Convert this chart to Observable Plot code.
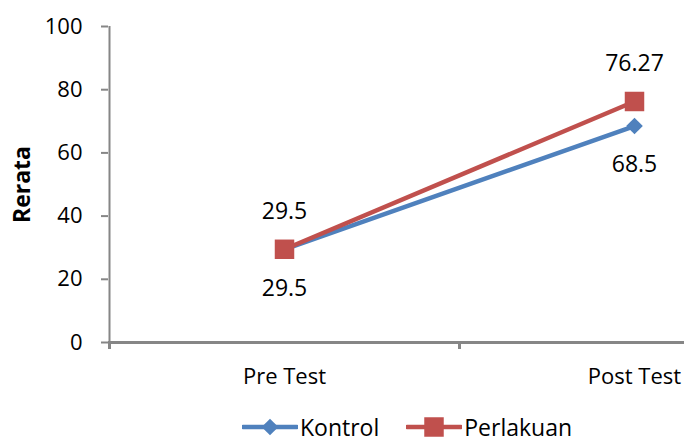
<!DOCTYPE html>
<html>
<head>
<meta charset="utf-8">
<script src="https://cdn.jsdelivr.net/npm/d3@7"></script>
<script src="https://cdn.jsdelivr.net/npm/@observablehq/plot@0.6"></script>
<style>
  html, body { margin: 0; padding: 0; background: #fff; }
  body { width: 684px; height: 441px; overflow: hidden; font-family: "Open Sans", sans-serif; }
  #legend { height: 41px; display: flex; align-items: center; padding-left: 242px; padding-top: 12px; box-sizing: border-box; font-size: 23px; color: #000; }
  .item { display: flex; align-items: center; margin-right: 27px; }
  .item svg { margin-right: 2px; }
</style>
</head>
<body>
<div id="chart"></div>
<div id="legend"></div>
<script>
const categories = ["Pre Test", "Post Test"];
const seriesNames = ["Kontrol", "Perlakuan"];
const kontrol = [29.5, 68.5];
const perlakuan = [29.5, 76.27];
const yTicks = [0, 20, 40, 60, 80, 100];
const colors = ["#4F81BD", "#C0504D"];

const rows = (vals, s) => vals.map((v, i) => ({x: i + 0.5, v, series: s}));
const kRows = rows(kontrol, seriesNames[0]);
const pRows = rows(perlakuan, seriesNames[1]);

const chart = Plot.plot({
  width: 684,
  height: 400,
  marginTop: 26,
  marginBottom: 58,
  marginLeft: 108,
  marginRight: 0,
  style: {fontFamily: "'Open Sans', sans-serif", fontSize: "22px", color: "#000", background: "#fff", overflow: "visible"},
  x: {domain: [0, 2], range: [109, 809]},
  y: {domain: [0, 100]},
  marks: [
    Plot.ruleX([0], {stroke: "#868686", strokeWidth: 2}),
    Plot.axisY({ticks: yTicks, tickSize: 7, tickPadding: 19, stroke: "#868686", strokeWidth: 2, fill: "#000", label: null}),
    Plot.ruleY([0], {stroke: "#868686", strokeWidth: 3}),
    Plot.axisX({ticks: [0, 1, 2], tickFormat: () => "", tickSize: 7, stroke: "#868686", strokeWidth: 3, label: null}),
    Plot.axisX({ticks: [0.5, 1.5], tickSize: 0, tickPadding: 26, tickFormat: d => categories[d - 0.5], fill: "#000", label: null}),
    Plot.text(["Rerata"], {frameAnchor: "left", textAnchor: "middle", rotate: -90, dx: -86, fontWeight: "bold", fontSize: 23, fill: "#000"}),
    Plot.line(kRows, {x: "x", y: "v", stroke: colors[0], strokeWidth: 4.5}),
    Plot.dot(kRows, {x: "x", y: "v", symbol: "diamond2", r: 7.5, fill: colors[0], stroke: null}),
    Plot.line(pRows, {x: "x", y: "v", stroke: colors[1], strokeWidth: 4.5}),
    Plot.dot(pRows, {x: "x", y: "v", symbol: "square", r: 11, fill: colors[1], stroke: null}),
    Plot.text(kRows, {x: "x", y: "v", text: d => String(d.v), dy: 39, fontSize: 23, fill: "#000"}),
    Plot.text(pRows, {x: "x", y: "v", text: d => String(d.v), dy: -38, fontSize: 23, fill: "#000"})
  ]
});
document.getElementById("chart").appendChild(chart);

// legend
const legend = d3.select("#legend");
seriesNames.forEach((name, i) => {
  const item = legend.append("div").attr("class", "item");
  const svg = item.append("svg").attr("width", 56).attr("height", 22);
  svg.append("line").attr("x1", 1).attr("x2", 55).attr("y1", 11).attr("y2", 11)
    .attr("stroke", colors[i]).attr("stroke-width", 4.5).attr("stroke-linecap", "round");
  const sym = i === 0 ? d3.symbolDiamond2 : d3.symbolSquare;
  const size = i === 0 ? Math.PI * 7.5 * 7.5 : Math.PI * 11 * 11;
  svg.append("path").attr("transform", "translate(28,11)")
    .attr("d", d3.symbol(sym, size)()).attr("fill", colors[i]);
  item.append("span").text(name);
});
</script>
</body>
</html>
